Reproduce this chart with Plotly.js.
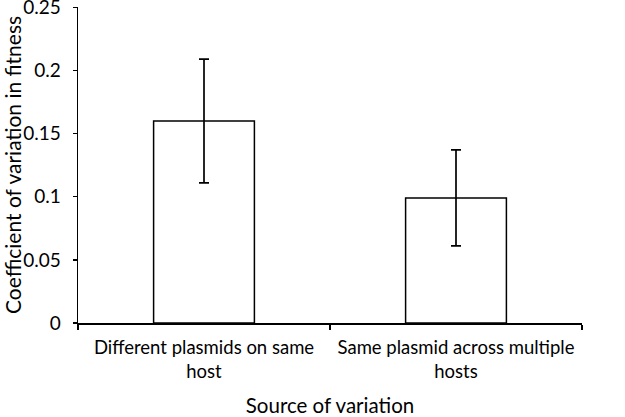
<!DOCTYPE html>
<html>
<head>
<meta charset="utf-8">
<script src="https://cdn.plot.ly/plotly-3.0.1.min.js"></script>
<style>
  html, body { margin: 0; padding: 0; background: #fff; }
  #chart { width: 625px; height: 417px; }
</style>
</head>
<body>
<div id="chart"></div>
<script>
// 막대 데이터
const categories = ['Different plasmids on same<br>host', 'Same plasmid across multiple<br>hosts'];
const cvValues = [0.160, 0.099];
const cvErrors = [0.049, 0.038];
const yTickValues = [0, 0.05, 0.1, 0.15, 0.2, 0.25];

const fontFamily = 'Lato, "Open Sans", sans-serif';

const trace = {
    x: categories,
    y: cvValues,
    type: 'bar',
    width: 0.4,
    marker: {
        color: '#ffffff',
        line: { color: '#000000', width: 1.5 }
    },
    error_y: {
        type: 'data',
        array: cvErrors,
        visible: true,
        color: '#000000',
        thickness: 1.7,
        width: 5
    },
    hoverinfo: 'none'
};

const layout = {
    width: 625,
    height: 417,
    margin: { t: 7, r: 43, b: 94, l: 78 },
    plot_bgcolor: '#ffffff',
    paper_bgcolor: '#ffffff',
    showlegend: false,
    font: { family: fontFamily, size: 19, color: '#000000' },
    xaxis: {
        type: 'category',
        range: [-0.5, 1.5],
        showline: true,
        linecolor: '#000000',
        linewidth: 1.5,
        ticks: 'outside',
        tickson: 'boundaries',
        ticklen: 5,
        tickwidth: 1.5,
        tickcolor: '#000000',
        showgrid: false,
        zeroline: false,
        ticklabelstandoff: 7,
        tickfont: { family: fontFamily, size: 18.5 },
        title: {
            text: 'Source of variation',
            font: { family: fontFamily, size: 20.5 },
            standoff: 25
        }
    },
    yaxis: {
        range: [0, 0.2502],
        tickvals: yTickValues,
        showline: true,
        linecolor: '#000000',
        linewidth: 1.5,
        ticks: 'outside',
        ticklen: 4,
        tickwidth: 1.5,
        tickcolor: '#000000',
        showgrid: false,
        zeroline: false,
        ticklabeloverflow: 'allow',
        ticklabelstandoff: 8,
        tickfont: { family: fontFamily, size: 19 },
        title: {
            text: 'Coefficient of variation in fitness',
            font: { family: fontFamily, size: 21 },
            standoff: 1
        }
    }
};

Plotly.newPlot('chart', [trace], layout, { displayModeBar: false, staticPlot: true });
</script>
</body>
</html>
